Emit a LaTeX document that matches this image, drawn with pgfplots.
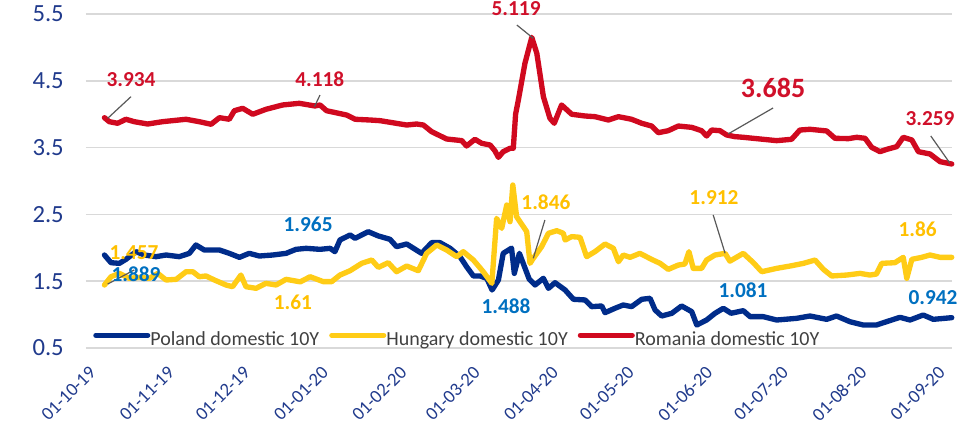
\documentclass[border=0pt]{standalone}
\usepackage{pgfplots}
\pgfplotsset{compat=1.18}
\usepackage{fontspec}
\setmainfont{Carlito}
\definecolor{pol}{HTML}{002C8A}
\definecolor{hun}{HTML}{FFCC16}
\definecolor{rom}{HTML}{D0091F}
\definecolor{bluelab}{HTML}{0070C0}
\definecolor{yellab}{HTML}{FFC000}
\definecolor{redlab}{HTML}{D0102A}
\definecolor{tickc}{HTML}{203A8C}
\definecolor{legc}{HTML}{404040}
\definecolor{gridc}{HTML}{D9D9D9}
\definecolor{leader}{HTML}{595959}
\begin{document}
\begin{tikzpicture}
\useasboundingbox (-64.5pt,-56.25pt) rectangle (666pt,261pt);
\begin{axis}[
  at={(0,0)}, anchor=south west,
  scale only axis, width=649.5pt, height=250.5pt,
  xmin=-0.8, xmax=341.9, ymin=0.5, ymax=5.5,
  clip=false,
  axis line style={draw=none},
  major tick length=0pt,
  ytick={0.5,1.5,2.5,3.5,4.5,5.5},
  yticklabels={\mbox{0.5},\mbox{1.5},\mbox{2.5},\mbox{3.5},\mbox{4.5},\mbox{5.5}},
  yticklabel style={font=\fontsize{18.5}{22}\selectfont, text=tickc, inner sep=0pt, xshift=-16.5pt},
  ymajorgrids,
  grid style={color=gridc, line width=1.1pt},
  xtick={1.9,32.9,62.9,93.9,124.9,153.9,184.9,214.9,245.9,275.9,306.9,337.9},
  xticklabels={},
  legend columns=3,
  legend style={draw=none, fill=none, at={(axis description cs:0,0)}, anchor=west, xshift=5.25pt, yshift=6.5pt,
    font=\fontsize{15}{18}\selectfont, text=legc, inner sep=0pt,
    nodes={inner sep=0pt},
    /tikz/every odd column/.append style={column sep=0pt},
    /tikz/every even column/.append style={column sep=7.5pt}},
  legend image code/.code={\draw[#1, line width=3.8pt, line cap=round] (0pt,0.3em) -- (39pt,0.3em);},
  every axis plot/.append style={line width=4pt, line join=round, line cap=round},
]
\addplot[pol] coordinates {
(6.5,1.892)(9.1,1.777)(12.4,1.767)(15,1.827)(19,1.942)(22.3,1.892)(26.9,1.867)(30.9,1.892)(36.1,1.867)(40.1,1.917)
(42.7,2.042)(46,1.967)(49.3,1.967)(52,1.967)(55.9,1.917)(59.9,1.857)(63.8,1.917)(67.8,1.877)(73.1,1.892)(78.4,1.917)
(82.3,1.977)(86.3,1.992)(91.8,1.977)(95.8,1.992)(97.7,1.942)(99.7,2.117)(103.7,2.192)(105.7,2.142)(110.9,2.241)(114.9,2.177)
(119.5,2.127)(122.1,2.017)(126.1,2.057)(132,1.917)(136,2.077)(139.3,2.077)(143.3,1.992)(147.2,1.867)(149.8,1.717)(152.5,1.578)
(155.1,1.578)(157.8,1.543)(159.9,1.368)(162.4,1.518)(164.3,1.917)(167.6,1.995)(168.7,1.617)(170.7,1.917)(174.6,1.530)(176.9,1.443)
(180.2,1.543)(182.2,1.393)(184.8,1.478)(188.8,1.368)(192.1,1.229)(196.7,1.219)(199.3,1.119)(203.3,1.129)(204.6,1.029)(208.5,1.094)
(211.8,1.144)(215.1,1.119)(219.1,1.229)(222.4,1.244)(224.4,1.069)(227,0.979)(231,1.019)(234.9,1.129)(238.9,1.044)(240.9,0.844)
(244.8,0.919)(248.1,1.019)(251.4,1.094)(254.5,1.020)(259.3,1.059)(262,0.969)(267.2,0.969)(272.5,0.919)(280.4,0.944)(285.7,0.979)
(292.3,0.929)(296.2,0.979)(301.5,0.894)(306.8,0.844)(312,0.844)(316,0.894)(321.3,0.959)(325.3,0.919)(330.5,0.994)(334.5,0.929)
(341.8,0.954)
};
\addlegendentry{Poland domestic 10Y}
\addplot[hun] coordinates {
(6.5,1.443)(9.1,1.567)(12.4,1.617)(16.3,1.543)(20.3,1.557)(24.3,1.543)(27.6,1.617)(30.9,1.518)(34.9,1.528)(38.8,1.642)
(41.5,1.642)(44,1.567)(46.7,1.578)(50,1.518)(54.6,1.443)(57.2,1.418)(60.5,1.592)(62.5,1.418)(66.5,1.393)(70.4,1.468)
(74.4,1.443)(78.4,1.528)(84,1.490)(87.9,1.567)(93.1,1.493)(96.4,1.493)(99.7,1.592)(103.7,1.657)(108.3,1.767)(112.3,1.817)
(114.9,1.707)(118.8,1.777)(122.1,1.642)(126.1,1.727)(130.7,1.657)(134,1.917)(138,2.042)(141.9,1.967)(145.9,1.867)(148.5,1.942)
(152.5,1.817)(156.4,1.642)(159.8,1.468)(161.7,2.441)(163.7,2.291)(165.7,2.640)(167,2.391)(168.1,2.940)(169.6,2.466)(173.6,2.241)
(174.9,1.767)(176.2,1.842)(179.5,2.017)(182.2,2.217)(185.5,2.256)(188.1,2.217)(188.8,2.117)(191.4,2.167)(194.7,2.157)(197.3,1.867)
(200.6,1.942)(204.6,2.057)(207.9,1.992)(209.9,1.792)(211.8,1.892)(214.5,1.857)(218.4,1.917)(223,1.827)(226.4,1.767)(229.6,1.677)
(233.6,1.742)(236.2,1.757)(237.8,1.942)(239.5,1.692)(242.8,1.692)(244.8,1.817)(248.1,1.892)(252.1,1.917)(254,1.800)(259.3,1.917)
(263.3,1.777)(266.6,1.642)(272.5,1.692)(277.8,1.727)(283.1,1.767)(287.7,1.817)(291,1.677)(294.3,1.578)(300.2,1.592)(305.5,1.617)
(309.4,1.592)(312,1.607)(314.1,1.767)(319.3,1.777)(322.6,1.857)(324,1.543)(326,1.827)(329.9,1.857)(333.2,1.892)(337.2,1.857)
(341.8,1.857)
};
\addlegendentry{Hungary domestic 10Y}
\addplot[rom] coordinates {
(6.5,3.948)(8.4,3.888)(11.7,3.864)(15,3.924)(18.3,3.888)(23.6,3.853)(29.5,3.888)(38.8,3.924)(44,3.888)(48.7,3.849)
(52,3.948)(55.9,3.924)(57.9,4.052)(61.2,4.088)(65.2,3.999)(70.4,4.073)(77,4.138)(83.6,4.163)(89.8,4.123)(91.8,4.138)
(94.4,4.052)(102.3,3.988)(105.7,3.924)(111.6,3.913)(115.6,3.903)(126.1,3.838)(130,3.853)(132.7,3.838)(136,3.738)(141.9,3.629)
(147.9,3.604)(149.8,3.524)(153.1,3.624)(155.8,3.564)(159.1,3.539)(161,3.453)(162.4,3.354)(164.3,3.439)(167,3.489)(168.3,3.490)
(169.2,4.000)(170.3,4.213)(172.9,4.762)(175.6,5.150)(177.6,4.912)(180.2,4.262)(182.8,3.938)(184.5,3.864)(187.4,4.138)(191.4,3.999)
(196.7,3.973)(200.6,3.963)(205.9,3.913)(209.9,3.963)(215.1,3.924)(219.1,3.864)(223,3.823)(225.7,3.723)(229.6,3.753)(233.6,3.823)
(238.9,3.803)(242.8,3.753)(244.8,3.674)(246.8,3.763)(250.1,3.753)(252.7,3.689)(256,3.664)(259.3,3.654)(267.2,3.624)(272.5,3.604)
(278.4,3.624)(281.7,3.763)(285.7,3.774)(292.3,3.749)(295.6,3.639)(300.9,3.634)(304.2,3.654)(307.5,3.639)(310.1,3.504)(313.4,3.439)
(316.1,3.474)(320,3.514)(322.6,3.654)(326,3.614)(328.6,3.439)(333.2,3.404)(337.2,3.289)(341.8,3.254)
};
\addlegendentry{Romania domestic 10Y}
% x tick labels (text nodes at the tick positions)
\tikzset{xl/.style={font=\fontsize{14}{16}\selectfont, text=tickc, inner sep=0pt, yshift=-16pt, rotate=45, anchor=east}}
\node[xl] at (axis cs:1.9,0.5) {01-10-19};
\node[xl] at (axis cs:32.9,0.5) {01-11-19};
\node[xl] at (axis cs:62.9,0.5) {01-12-19};
\node[xl] at (axis cs:93.9,0.5) {01-01-20};
\node[xl] at (axis cs:124.9,0.5) {01-02-20};
\node[xl] at (axis cs:153.9,0.5) {01-03-20};
\node[xl] at (axis cs:184.9,0.5) {01-04-20};
\node[xl] at (axis cs:214.9,0.5) {01-05-20};
\node[xl] at (axis cs:245.9,0.5) {01-06-20};
\node[xl] at (axis cs:275.9,0.5) {01-07-20};
\node[xl] at (axis cs:306.9,0.5) {01-08-20};
\node[xl] at (axis cs:337.9,0.5) {01-09-20};
% leader lines
\draw[leader, line width=0.9pt] (axis cs:17.0,4.262) -- (axis cs:7.8,3.939);
\draw[leader, line width=0.9pt] (axis cs:91.8,4.287) -- (axis cs:89.6,4.112);
\draw[leader, line width=0.9pt] (axis cs:169.7,5.335) -- (axis cs:176.2,5.136);
\draw[leader, line width=0.9pt] (axis cs:271.1,4.093) -- (axis cs:253.3,3.704);
\draw[leader, line width=0.9pt] (axis cs:333.5,3.674) -- (axis cs:341.1,3.265);
\draw[leader, line width=0.9pt] (axis cs:7.8,1.458) -- (axis cs:18.3,1.668);
\draw[leader, line width=0.9pt] (axis cs:180.8,2.416) -- (axis cs:176.2,1.843);
\draw[leader, line width=0.9pt] (axis cs:247.4,2.491) -- (axis cs:252.1,1.918);
% data labels
\tikzset{dl/.style={font=\bfseries\fontsize{16}{19}\selectfont, inner sep=0pt}}
\node[dl, text=redlab] at (axis cs:17.0,4.512) {3.934};
\node[dl, text=redlab] at (axis cs:91.7,4.527) {4.118};
\node[dl, text=redlab] at (axis cs:169.4,5.575) {5.119};
\node[dl, text=redlab, font=\bfseries\fontsize{21}{25}\selectfont] at (axis cs:271.1,4.400) {3.685};
\node[dl, text=redlab] at (axis cs:333.2,3.928) {3.259};
\node[dl, text=yellab] at (axis cs:18.2,1.922) {1.457};
\node[dl, text=bluelab] at (axis cs:19.0,1.608) {1.889};
\node[dl, text=bluelab] at (axis cs:87.1,2.356) {1.965};
\node[dl, text=bluelab] at (axis cs:165.4,1.129) {1.488};
\node[dl, text=bluelab] at (axis cs:259.2,1.361) {1.081};
\node[dl, text=bluelab] at (axis cs:334.4,1.256) {0.942};
\node[dl, text=yellab] at (axis cs:81.1,1.181) {1.61};
\node[dl, text=yellab] at (axis cs:181.2,2.678) {1.846};
\node[dl, text=yellab] at (axis cs:247.7,2.753) {1.912};
\node[dl, text=yellab] at (axis cs:328.3,2.281) {1.86};
\end{axis}
\end{tikzpicture}
\end{document}
